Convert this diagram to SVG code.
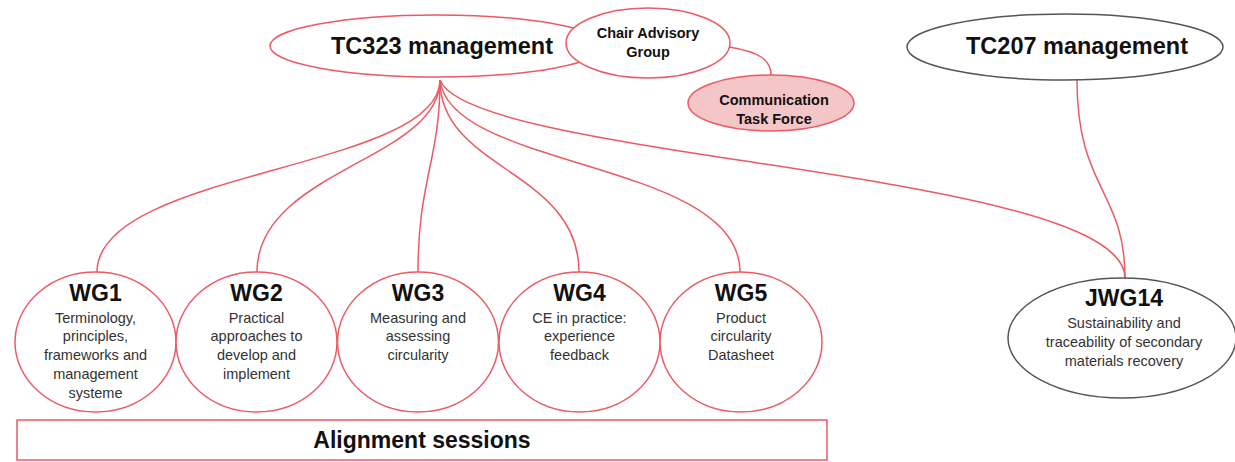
<svg xmlns="http://www.w3.org/2000/svg" width="1235" height="462" viewBox="0 0 1235 462">
<style>
.red{fill:#fff;stroke:#ec5a64;stroke-width:1.5}
.gray{fill:#fff;stroke:#555;stroke-width:1.5}
.con{fill:none;stroke:#ec5a64;stroke-width:1.5}
.t{font-family:"Liberation Sans",Arial,sans-serif;text-anchor:middle;fill:#111;font-weight:bold}
.d{font-family:"Liberation Sans",Arial,sans-serif;text-anchor:middle;fill:#333;font-size:14.5px}
</style>
<rect width="1235" height="462" fill="#fff"/>
<g id="connectors">
<path class="con" d="M440,80 C440,170 97,170 97,272"/>
<path class="con" d="M440,80 C440,160 257,170 257,272"/>
<path class="con" d="M440,80 C440,160 418,180 418,272"/>
<path class="con" d="M440,80 C440,170 579,170 579,272"/>
<path class="con" d="M440,80 C450,170 740,160 740,272"/>
<path class="con" d="M440,80 C470,160 1125,170 1125,278"/>
<path class="con" d="M1077,80 C1077,190 1125,190 1125,278"/>
<path class="con" d="M729,47 C760,52 771,60 771,75"/>
</g>
<g id="tc323">
<ellipse class="red" cx="437" cy="46" rx="167" ry="31"/>
<text class="t" x="442" y="54" font-size="23.5">TC323 management</text>
</g>
<g id="chair">
<ellipse class="red" cx="648" cy="43" rx="82" ry="35"/>
<text class="t" x="648" y="38" font-size="14.5">Chair Advisory</text>
<text class="t" x="648" y="57" font-size="14.5">Group</text>
</g>
<g id="ctf">
<ellipse cx="771" cy="103" rx="83" ry="28" fill="#f4c6c8" stroke="#ec5a64" stroke-width="1.5"/>
<text class="t" x="774" y="105" font-size="14.5">Communication</text>
<text class="t" x="774" y="124" font-size="14.5">Task Force</text>
</g>
<g id="tc207">
<ellipse class="gray" cx="1065" cy="47" rx="158" ry="33"/>
<text class="t" x="1077" y="54" font-size="23.5">TC207 management</text>
</g>
<g id="wg1">
<ellipse class="red" cx="95.5" cy="342" rx="80.5" ry="70"/>
<text class="t" x="95.5" y="301" font-size="23">WG1</text>
<text class="d" x="95.5" y="323">Terminology,</text>
<text class="d" x="95.5" y="341">principles,</text>
<text class="d" x="95.5" y="360">frameworks and</text>
<text class="d" x="95.5" y="379">management</text>
<text class="d" x="95.5" y="398">systeme</text>
</g>
<g id="wg2">
<ellipse class="red" cx="256.5" cy="342" rx="80.5" ry="70"/>
<text class="t" x="256.5" y="301" font-size="23">WG2</text>
<text class="d" x="256.5" y="323">Practical</text>
<text class="d" x="256.5" y="341">approaches to</text>
<text class="d" x="256.5" y="360">develop and</text>
<text class="d" x="256.5" y="379">implement</text>
</g>
<g id="wg3">
<ellipse class="red" cx="418" cy="342" rx="80.5" ry="70"/>
<text class="t" x="418" y="301" font-size="23">WG3</text>
<text class="d" x="418" y="323">Measuring and</text>
<text class="d" x="418" y="341">assessing</text>
<text class="d" x="418" y="360">circularity</text>
</g>
<g id="wg4">
<ellipse class="red" cx="579.5" cy="342" rx="80.5" ry="70"/>
<text class="t" x="579.5" y="301" font-size="23">WG4</text>
<text class="d" x="579.5" y="323">CE in practice:</text>
<text class="d" x="579.5" y="341">experience</text>
<text class="d" x="579.5" y="360">feedback</text>
</g>
<g id="wg5">
<ellipse class="red" cx="741" cy="342" rx="81" ry="70"/>
<text class="t" x="741" y="301" font-size="23">WG5</text>
<text class="d" x="741" y="323">Product</text>
<text class="d" x="741" y="341">circularity</text>
<text class="d" x="741" y="360">Datasheet</text>
</g>
<g id="jwg14">
<ellipse class="gray" cx="1122" cy="338" rx="114" ry="60"/>
<text class="t" x="1124" y="306" font-size="23">JWG14</text>
<text class="d" x="1124" y="328">Sustainability and</text>
<text class="d" x="1124" y="347">traceability of secondary</text>
<text class="d" x="1124" y="366">materials recovery</text>
</g>
<g id="alignment">
<rect class="red" x="17" y="420" width="810" height="40"/>
<text class="t" x="422" y="448" font-size="23">Alignment sessions</text>
</g>
</svg>
